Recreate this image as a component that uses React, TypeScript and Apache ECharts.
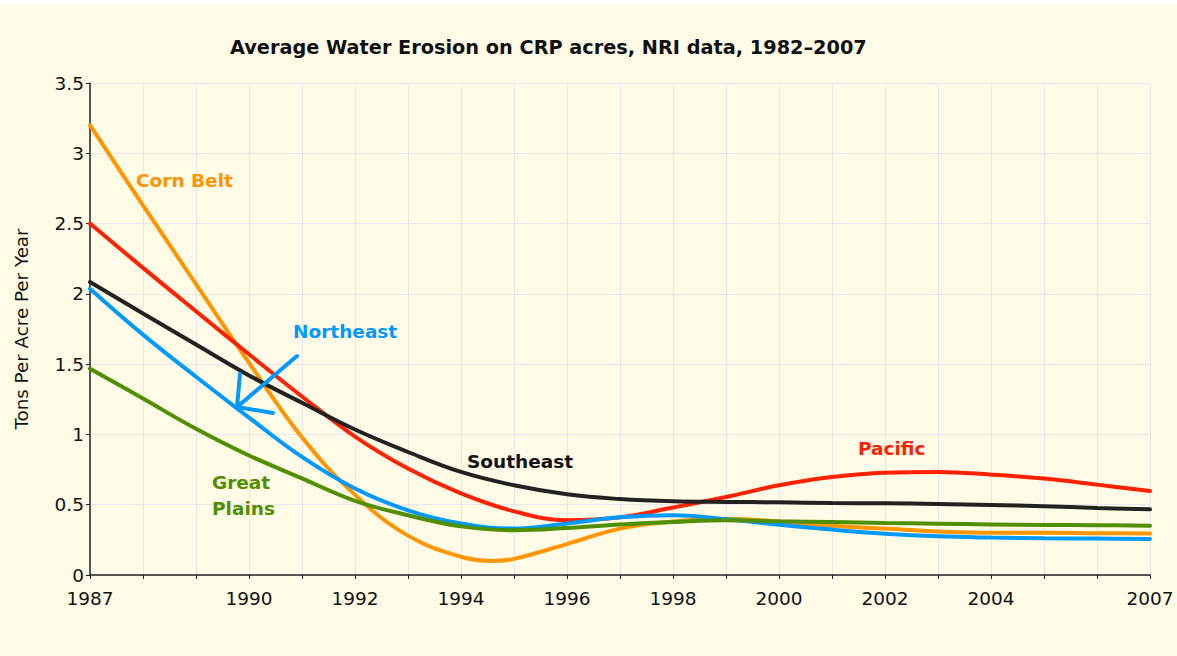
import React, { useEffect, useRef } from "react";
import * as echarts from "echarts";

const years = [1987, 1988, 1989, 1990, 1991, 1992, 1993, 1994, 1995, 1996, 1997, 1998, 1999, 2000, 2001, 2002, 2003, 2004, 2005, 2006, 2007];
const xLabelYears = [1987, 1990, 1992, 1994, 1996, 1998, 2000, 2002, 2004, 2007];

const cornBeltYears = [1987, 1988, 1989, 1990, 1991, 1992, 1993, 1994, 1994.6, 1995, 1996, 1997, 1998, 1999, 2000, 2001, 2002, 2003, 2004, 2005, 2006, 2007];
const cornBelt = [3.2, 2.63, 2.07, 1.51, 0.98, 0.57, 0.28, 0.13, 0.1, 0.115, 0.22, 0.33, 0.38, 0.4, 0.38, 0.35, 0.33, 0.31, 0.3, 0.3, 0.297, 0.295];
const pacific = [2.5, 2.185, 1.876, 1.57, 1.27, 0.985, 0.757, 0.58, 0.453, 0.39, 0.41, 0.48, 0.555, 0.638, 0.697, 0.728, 0.733, 0.714, 0.686, 0.643, 0.597];
const southeast = [2.084, 1.86, 1.64, 1.42, 1.225, 1.035, 0.875, 0.733, 0.638, 0.574, 0.54, 0.524, 0.52, 0.517, 0.512, 0.51, 0.505, 0.498, 0.489, 0.477, 0.467];
const northeast = [2.037, 1.71, 1.41, 1.12, 0.84, 0.615, 0.46, 0.366, 0.33, 0.366, 0.41, 0.425, 0.396, 0.358, 0.323, 0.294, 0.275, 0.266, 0.261, 0.259, 0.256];
const greatPlains = [1.468, 1.255, 1.04, 0.85, 0.688, 0.528, 0.425, 0.346, 0.318, 0.334, 0.36, 0.377, 0.389, 0.382, 0.377, 0.37, 0.365, 0.36, 0.356, 0.354, 0.351];

const seriesDefs = [
  { name: "Corn Belt", x: cornBeltYears, values: cornBelt, color: "#ff9500" },
  { name: "Pacific", x: years, values: pacific, color: "#ff2200" },
  { name: "Southeast", x: years, values: southeast, color: "#222222" },
  { name: "Northeast", x: years, values: northeast, color: "#0099ff" },
  { name: "Great Plains", x: years, values: greatPlains, color: "#4f8f00" },
];

const FONT = "DejaVu Sans";

export default function App() {
  const ref = useRef<HTMLDivElement>(null);
  useEffect(() => {
    document.body.style.margin = "0";
    const chart = echarts.init(ref.current!, null, { renderer: "svg" });
    const labelStyle = (color: string) => ({
      fill: color,
      fontFamily: FONT,
      fontWeight: "bold",
      fontSize: 18.5,
    });
    chart.setOption({
      animation: false,
      backgroundColor: "#fffbe6",
      title: {
        text: "Average Water Erosion on CRP acres, NRI data, 1982\u20132007",
        left: 225,
        top: 33,
        textStyle: { fontFamily: FONT, fontWeight: "bold", fontSize: 19.3, color: "#111" },
      },
      grid: { left: 90, right: 27, top: 83, bottom: 81, containLabel: false },
      xAxis: {
        type: "value",
        min: 1987,
        max: 2007,
        interval: 1,
        axisLine: { show: true, lineStyle: { color: "#222", width: 1.5 } },
        axisTick: { show: true, length: 4, lineStyle: { color: "#222" } },
        axisLabel: {
          margin: 14,
          fontFamily: FONT,
          fontSize: 18.5,
          color: "#111",
          formatter: (v: number) => (xLabelYears.includes(v) ? String(v) : ""),
        },
        splitLine: { show: true, lineStyle: { color: "#e8e6ea", width: 1 } },
      },
      yAxis: {
        type: "value",
        min: 0,
        max: 3.5,
        interval: 0.5,
        name: "Tons Per Acre Per Year",
        nameLocation: "middle",
        nameRotate: 90,
        nameGap: 60,
        nameTextStyle: { fontFamily: FONT, fontSize: 18.3, color: "#111" },
        axisLine: { show: true, lineStyle: { color: "#222", width: 1.5 } },
        axisTick: { show: true, length: 4, lineStyle: { color: "#222" } },
        axisLabel: { margin: 6, fontFamily: FONT, fontSize: 18.5, color: "#111" },
        splitLine: { show: true, lineStyle: { color: "#e8e6ea", width: 1 } },
      },
      series: seriesDefs.map((s) => ({
        name: s.name,
        type: "line",
        smooth: 0.4,
        showSymbol: false,
        data: s.x.map((y, i) => [y, s.values[i]]),
        lineStyle: { color: s.color, width: 4, cap: "round" },
        itemStyle: { color: s.color },
        z: 3,
      })),
      graphic: [
        { type: "rect", left: 0, top: 0, z: 100, shape: { width: 1177, height: 4 }, style: { fill: "#ffffff" } },
        { type: "text", z: 100, left: 136, top: 171, style: { text: "Corn Belt", ...labelStyle("#ff9500") } },
        { type: "text", z: 100, left: 293, top: 322, style: { text: "Northeast", ...labelStyle("#0099ff") } },
        { type: "text", z: 100, left: 467, top: 452, style: { text: "Southeast", ...labelStyle("#111111") } },
        { type: "text", z: 100, left: 858, top: 439, style: { text: "Pacific", ...labelStyle("#ff2200") } },
        { type: "text", z: 100, left: 212, top: 473, style: { text: "Great", ...labelStyle("#4f8f00") } },
        { type: "text", z: 100, left: 212, top: 499, style: { text: "Plains", ...labelStyle("#4f8f00") } },
        {
          type: "line",
          z: 100,
          shape: { x1: 297, y1: 356, x2: 237, y2: 407 },
          style: { stroke: "#0099ff", lineWidth: 4, lineCap: "round" },
        },
        {
          type: "polyline",
          z: 100,
          shape: { points: [[240, 374], [237, 407], [273, 413]] },
          style: { stroke: "#0099ff", lineWidth: 4, lineCap: "round", lineJoin: "miter", fill: "none" },
        },
      ],
    });
    return () => chart.dispose();
  }, []);
  return <div ref={ref} style={{ width: 1177, height: 656 }} />;
}
